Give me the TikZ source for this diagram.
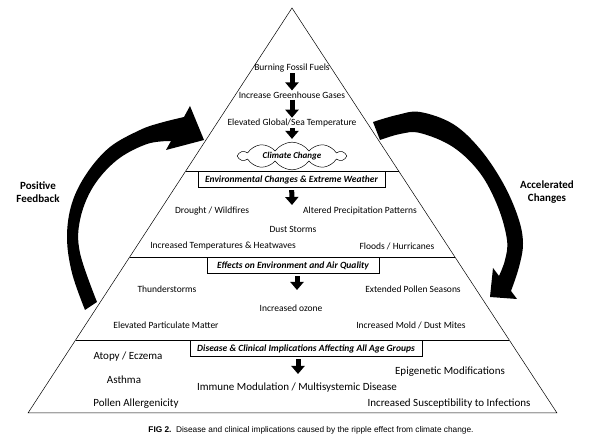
\documentclass[tikz,border=0pt]{standalone}
\usepackage{fontspec}
\setmainfont{Carlito}
\newfontfamily\capfont{Liberation Sans}
\usetikzlibrary{arrows.meta,shapes.symbols,positioning,calc}

\begin{document}
\begin{tikzpicture}[x=1pt,y=1pt,
  every node/.style={inner sep=1pt},
  item/.style={font=\fontsize{9.5}{11}\selectfont},
  bigitem/.style={font=\fontsize{11}{13}\selectfont},
  tierbox/.style={draw, fill=white, line width=0.7pt, anchor=north, minimum height=16pt,
    font=\fontsize{9.5}{11}\selectfont\bfseries\itshape},
  downarrow/.style={line width=5pt, -{Triangle[width=13pt,length=8pt]}},
  sidelabel/.style={font=\fontsize{11}{13}\selectfont\bfseries, align=center}]

\useasboundingbox (0,0) rectangle (600,-443);

% pyramid and its tiers
\coordinate (apex) at (292,-8);
\coordinate (bl) at (28,-413);
\coordinate (br) at (557,-413);
\draw [line width=0.5pt] (apex) -- (br) -- (bl) -- cycle;
\draw [line width=0.9pt] ($(apex)!0.4025!(bl)$) -- ($(apex)!0.4025!(br)$);
\draw [line width=0.9pt] ($(apex)!0.6148!(bl)$) -- ($(apex)!0.6148!(br)$);
\draw [line width=0.9pt] ($(apex)!0.8198!(bl)$) -- ($(apex)!0.8198!(br)$);

% top tier
\node [item] (fossil) at (292,-68) {Burning Fossil Fuels};
\node [item] (ghg) at (292,-95) {Increase Greenhouse Gases};
\node [item] (temp) at (292,-123) {Elevated Global/Sea Temperature};
\node [draw, cloud, cloud puffs=10, cloud puff arc=110, aspect=5.5, minimum width=106pt, minimum height=19pt,
  inner sep=0pt, line width=0.5pt, font=\fontsize{9}{11}\selectfont\bfseries\itshape]
  (climate) at (292,-156) {Climate Change};
\draw [downarrow] (fossil) -- (ghg);
\draw [downarrow] (ghg) -- (temp);
\draw [downarrow, shorten >=3pt] (temp) -- (climate);

% second tier
\node [tierbox, minimum width=187pt] (env) at (291.5,-171.5) {Environmental Changes \& Extreme Weather};
\coordinate (envend) at (292,-205);
\draw [downarrow, shorten <=2pt] (env) -- (envend);
\node [item] (drought) at (212,-211) {Drought / Wildfires};
\node [item] (precip) at (360,-211) {Altered Precipitation Patterns};
\node [item] (dust) at (293,-229) {Dust Storms};
\node [item] (heat) at (223,-246) {Increased Temperatures \& Heatwaves};
\node [item] (flood) at (397,-246) {Floods / Hurricanes};

% third tier
\node [tierbox, minimum width=172pt] (air) at (293,-257.5) {Effects on Environment and Air Quality};
\coordinate (airend) at (297,-290);
\draw [downarrow, shorten <=2pt] (airend |- air.south) -- (airend);
\node [item] (thunder) at (167,-289) {Thunderstorms};
\node [item] (pollen) at (413,-289) {Extended Pollen Seasons};
\node [item] (ozone) at (291,-308) {Increased ozone};
\node [item] (particulate) at (166,-325) {Elevated Particulate Matter};
\node [item] (mold) at (411,-325) {Increased Mold / Dust Mites};

% bottom tier
\node [tierbox, minimum width=232pt] (disease) at (306,-340.5) {Disease \& Clinical Implications Affecting All Age Groups};
\coordinate (diseaseend) at (298,-374);
\draw [downarrow, shorten <=2pt] (diseaseend |- disease.south) -- (diseaseend);
\node [bigitem] (atopy) at (128,-357) {Atopy / Eczema};
\node [bigitem] (asthma) at (124,-380) {Asthma};
\node [bigitem] (allergen) at (136,-404) {Pollen Allergenicity};
\node [bigitem] (immune) at (297,-388) {Immune Modulation / Multisystemic Disease};
\node [bigitem] (epigen) at (450,-372) {Epigenetic Modifications};
\node [bigitem] (infect) at (449,-404) {Increased Susceptibility to Infections};

% big curved arrows
\fill [black] plot [smooth, tension=0.6] coordinates {(85,-310) (72,-273) (67,-237) (72,-203) (87,-173) (110,-147) (140,-130) (160,-123) (184,-117)}
  -- (190,-106) -- (204,-140) -- (166,-150) -- (171,-141)
  -- plot [smooth, tension=0.6] coordinates {(171,-141) (147,-144) (117,-160) (93,-187) (80,-220) (80,-253) (97,-302)} -- cycle;
\fill [black] plot [smooth, tension=0.6] coordinates {(373,-122) (397,-115) (420,-112) (453,-124) (480,-149) (503,-183) (518,-217) (523,-243) (519,-267) (511,-291)}
  -- (517,-299) -- (490,-297) -- (493,-268) -- (499,-276)
  -- plot [smooth, tension=0.6] coordinates {(499,-276) (505,-260) (507,-240) (498,-207) (480,-173) (453,-147) (420,-133) (400,-134) (380,-140)} -- cycle;
\node [sidelabel] (posfb) at (38,-192) {Positive\\Feedback};
\node [sidelabel] (accel) at (547,-192) {Accelerated\\Changes};

% caption
\node [font=\capfont\fontsize{8.3}{10}\selectfont] (caption) at (311,-430)
  {\textbf{FIG 2.}\ \ Disease and clinical implications caused by the ripple effect from climate change.};
\end{tikzpicture}
\end{document}
